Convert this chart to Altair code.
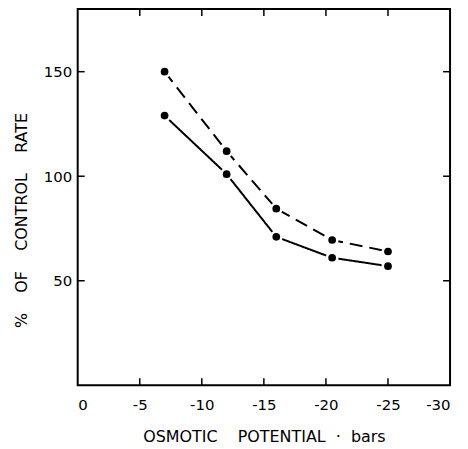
import altair as alt
import pandas as pd

# data
x_vals = [-7, -12, -16, -20.5, -25]
solid_y = [129, 101, 71, 61, 57]
dashed_y = [150, 112, 84.5, 69.5, 64]
x_tick_vals = [0, -5, -10, -15, -20, -25, -30]
y_tick_vals = [50, 100, 150]
inner_x_ticks = [-5, -10, -15, -20, -25]

W, H = 374, 378
FONT = "DejaVu Sans"
SP = "\u00a0" * 4

df = pd.DataFrame({
    "x": x_vals * 2,
    "y": solid_y + dashed_y,
    "series": ["solid"] * len(x_vals) + ["dashed"] * len(x_vals),
})
xt = pd.DataFrame({"t": inner_x_ticks})
yt = pd.DataFrame({"t": y_tick_vals})

xscale = alt.Scale(domain=[-30, 0], reverse=True, nice=False, zero=False)
yscale = alt.Scale(domain=[0, 180], nice=False)

xaxis = alt.Axis(values=x_tick_vals,
                 title=f"OSMOTIC{SP}POTENTIAL\u00a0\u00a0·\u00a0\u00a0bars",
                 ticks=False, domain=False, grid=False, labelPadding=12, titlePadding=16,
                 labelFontSize=15, titleFontSize=16, labelFont=FONT, titleFont=FONT,
                 labelExpr="replace(datum.label, '\u2212', '-')",
                 titleFontWeight="normal", labelColor="black", titleColor="black")
yaxis = alt.Axis(values=y_tick_vals, title=f"%{SP}OF{SP}CONTROL{SP}RATE", ticks=False,
                 domain=False, grid=False, labelPadding=6,
                 titleX=-56, titleY=212, titleBaseline="middle", titleAngle=270,
                 labelFontSize=15, titleFontSize=16, labelFont=FONT, titleFont=FONT,
                 titleFontWeight="normal", labelColor="black", titleColor="black")

base = alt.Chart(df)

lines = base.mark_line(color="black", strokeWidth=2).encode(
    x=alt.X("x:Q", scale=xscale, axis=xaxis),
    y=alt.Y("y:Q", scale=yscale, axis=yaxis),
    strokeDash=alt.StrokeDash("series:N", scale=alt.Scale(domain=["solid", "dashed"],
                              range=[[1, 0], [13, 7]]), legend=None),
    detail="series:N",
)
halo = base.mark_circle(color="white", opacity=1, size=170).encode(
    x=alt.X("x:Q", scale=xscale), y=alt.Y("y:Q", scale=yscale))
dots = base.mark_circle(color="black", opacity=1, size=60).encode(
    x=alt.X("x:Q", scale=xscale), y=alt.Y("y:Q", scale=yscale))

tick_b = alt.Chart(xt).mark_rule(color="black", strokeWidth=1.5).encode(
    x=alt.X("t:Q", scale=xscale), y=alt.value(H), y2=alt.value(H - 7))
tick_t = alt.Chart(xt).mark_rule(color="black", strokeWidth=1.5).encode(
    x=alt.X("t:Q", scale=xscale), y=alt.value(0), y2=alt.value(7))
tick_l = alt.Chart(yt).mark_rule(color="black", strokeWidth=1.5).encode(
    y=alt.Y("t:Q", scale=yscale), x=alt.value(0), x2=alt.value(7))
tick_r = alt.Chart(yt).mark_rule(color="black", strokeWidth=1.5).encode(
    y=alt.Y("t:Q", scale=yscale), x=alt.value(W), x2=alt.value(W - 7))

chart = alt.layer(lines, halo, dots, tick_b, tick_t, tick_l, tick_r).properties(
    width=W, height=H,
    background="white",
    autosize=alt.AutoSizeParams(type="none"),
    padding={"left": 70, "top": 0, "right": 10, "bottom": 60},
).configure_view(stroke="black", strokeWidth=2)

chart.save("out.html", embed_options={"renderer": "svg", "actions": False})
